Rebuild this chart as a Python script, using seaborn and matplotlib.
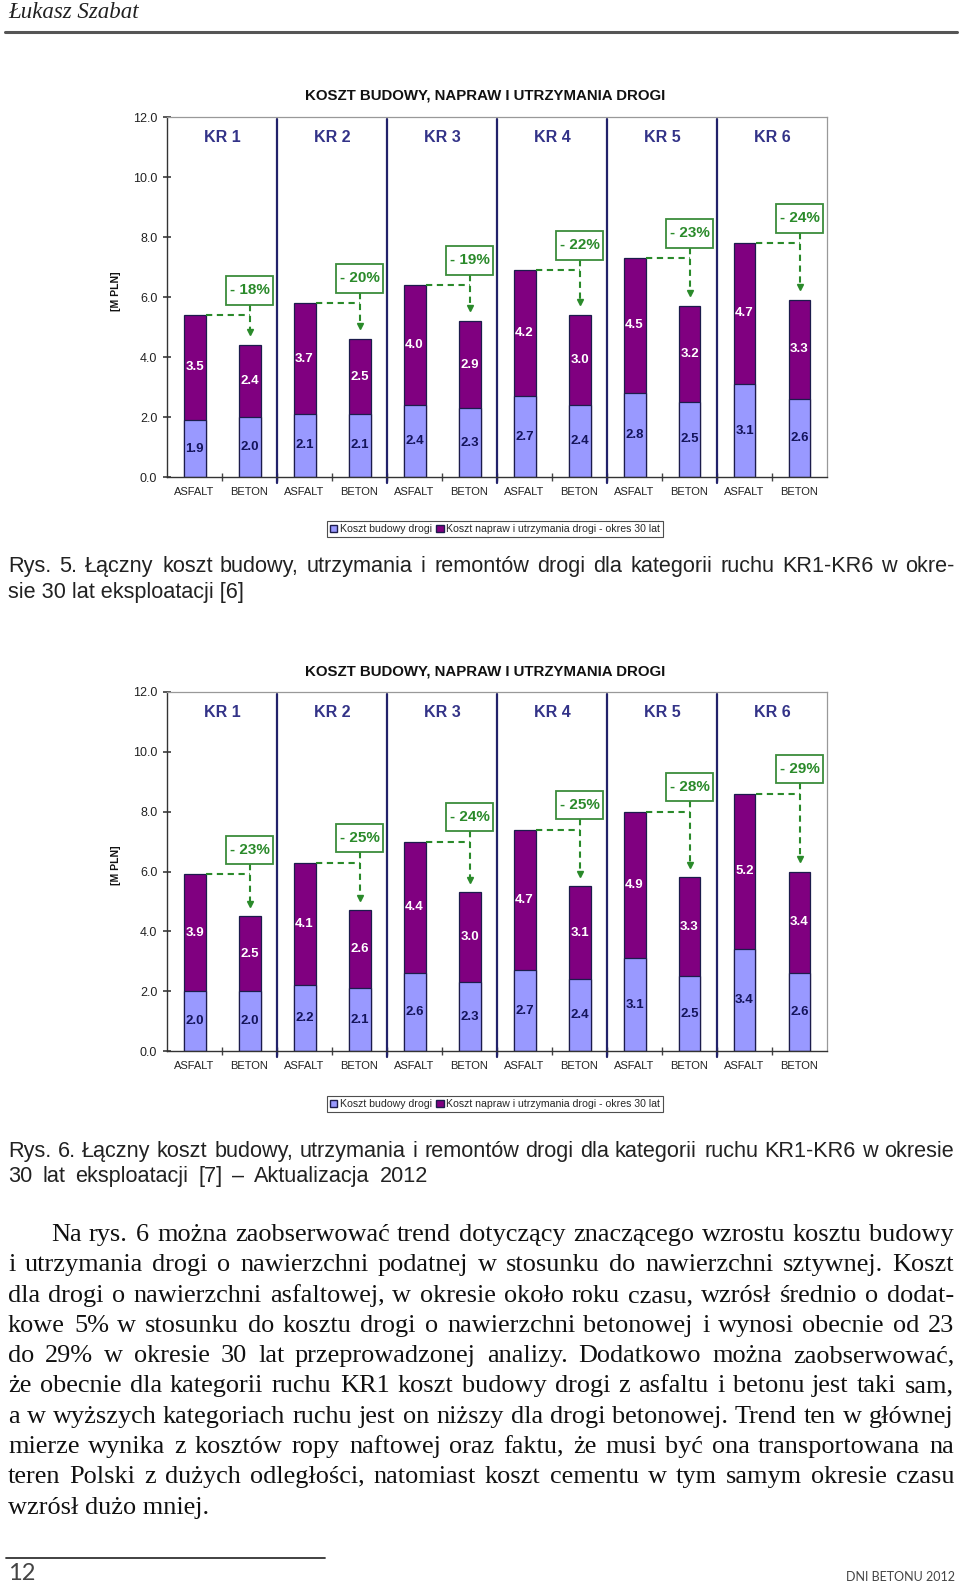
import pandas as pd
import matplotlib.pyplot as plt
import seaborn as sns
from matplotlib.patches import Rectangle, Patch

# wartosci (mln PLN)
kategorie = ['KR 1', 'KR 2', 'KR 3', 'KR 4', 'KR 5', 'KR 6']
nawierzchnie = ['ASFALT', 'BETON']

# Rys. 5
budowa_asfalt_5 = [1.9, 2.1, 2.4, 2.7, 2.8, 3.1]
utrzym_asfalt_5 = [3.5, 3.7, 4.0, 4.2, 4.5, 4.7]
budowa_beton_5 = [2.0, 2.1, 2.3, 2.4, 2.5, 2.6]
utrzym_beton_5 = [2.4, 2.5, 2.9, 3.0, 3.2, 3.3]
roznica_5 = [18, 20, 19, 22, 23, 24]

# Rys. 6
budowa_asfalt_6 = [2.0, 2.2, 2.6, 2.7, 3.1, 3.4]
utrzym_asfalt_6 = [3.9, 4.1, 4.4, 4.7, 4.9, 5.2]
budowa_beton_6 = [2.0, 2.1, 2.3, 2.4, 2.5, 2.6]
utrzym_beton_6 = [2.5, 2.6, 3.0, 3.1, 3.3, 3.4]
roznica_6 = [23, 25, 24, 25, 28, 29]

TITLE = 'KOSZT BUDOWY, NAPRAW I UTRZYMANIA DROGI'
LEG = ['Koszt budowy drogi', 'Koszt napraw i utrzymania drogi - okres 30 lat']

LIGHT = '#9999ff'
PURPLE = '#800080'
EDGE = '#1c1c4c'
NAVY = '#22226a'
GREEN = '#2a8a2a'

sns.set_theme(style='white')
plt.rcParams['font.family'] = ['Liberation Sans', 'DejaVu Sans']

W, H = 960, 1587
fig = plt.figure(figsize=(9.6, 15.87), dpi=100)


def fx(x):
    return x / W


def fy(y):
    return 1 - y / H


def draw_chart(top, bottom, ba, ua, bb, ub, roz):
    ax = fig.add_axes([fx(167), fy(bottom), (827 - 167) / W, (bottom - top) / H])
    rows = []
    for i, kr in enumerate(kategorie):
        rows.append((kr + ' A', 'ASFALT', ba[i], ua[i]))
        rows.append((kr + ' B', 'BETON', bb[i], ub[i]))
    df = pd.DataFrame(rows, columns=['cat', 'typ', 'budowa', 'utrzymanie'])
    df['suma'] = df['budowa'] + df['utrzymanie']

    # stacked bars: total (purple) first, then base (light) on top of it
    sns.barplot(data=df, x='cat', y='suma', color=PURPLE, width=0.4, saturation=1,
                edgecolor=EDGE, linewidth=0.9, errorbar=None, ax=ax)
    sns.barplot(data=df, x='cat', y='budowa', color=LIGHT, width=0.4, saturation=1,
                edgecolor=EDGE, linewidth=0.9, errorbar=None, ax=ax)

    for i, r in df.iterrows():
        ax.text(i, r['budowa'] / 2, f"{r['budowa']:.1f}", ha='center', va='center',
                fontsize=9.5, fontweight='bold', color='#14145a', zorder=6)
        ax.text(i, r['budowa'] + r['utrzymanie'] / 2, f"{r['utrzymanie']:.1f}",
                ha='center', va='center', fontsize=9.5, fontweight='bold', color='white', zorder=6)

    ax.set_xlim(-0.5, 11.5)
    ax.set_ylim(0, 12)
    ax.set_yticks(range(0, 13, 2))
    ax.set_yticklabels([f'{v:.1f}' for v in range(0, 13, 2)], fontsize=9, color='#222')
    ax.set_xticks(range(12))
    ax.set_xticklabels(list(df['typ']), fontsize=8, color='#222')
    ax.set_xticks([k + 0.5 for k in range(11)], minor=True)
    ax.tick_params(axis='x', which='major', length=0, pad=7)
    ax.tick_params(axis='x', which='minor', length=6, direction='inout', color='#444', bottom=True)
    ax.tick_params(axis='y', length=6, direction='inout', color='#444', left=True, pad=4)
    ax.set_xlabel('')
    ax.set_ylabel('')
    for s in ['left', 'bottom']:
        ax.spines[s].set_color('#333')
        ax.spines[s].set_linewidth(1.0)
    for s in ['top', 'right']:
        ax.spines[s].set_color('#999')
        ax.spines[s].set_linewidth(0.9)

    # group separators and KR headers
    for k in range(6):
        if k > 0:
            ax.plot([2 * k - 0.5] * 2, [-0.2, 11.93], color=NAVY, lw=1.6, clip_on=False, zorder=1)
        ax.text(2 * k + 0.5, 11.33, kategorie[k], ha='center', va='center',
                fontsize=11.5, fontweight='bold', color='#333388')

    # savings annotations
    for k in range(6):
        xa, xb = 2 * k, 2 * k + 1
        ta = ba[k] + ua[k]
        tb = bb[k] + ub[k]
        b0 = ta + 0.35
        ax.plot([xa + 0.2, xb], [ta, ta], color=GREEN, lw=1.5, ls=(0, (3, 2.2)), zorder=4)
        ax.plot([xb, xb], [b0, tb + 0.5], color=GREEN, lw=1.5, ls=(0, (3, 2.2)), zorder=4)
        ax.plot([xb], [tb + 0.43], marker='v', ms=5, color=GREEN, zorder=4)
        ax.add_patch(Rectangle((xb - 0.42, b0), 0.84, 0.95, facecolor='white',
                               edgecolor='#3c8c3c', lw=1.3, zorder=5))
        ax.text(xb, b0 + 0.475, f'- {roz[k]}%', ha='center', va='center', fontsize=11,
                fontweight='bold', color=GREEN, zorder=6)

    fig.text(fx(485), fy(top - 21), TITLE, ha='center', va='center', fontsize=10.8,
             fontweight='bold', color='#111')
    fig.text(fx(116), fy((top + bottom) / 2 - 6), '[M PLN]', rotation=90, ha='center',
             va='center', fontsize=7.5, fontweight='bold', color='#111')
    return ax


def draw_legend(yc):
    handles = [Patch(facecolor=LIGHT, edgecolor=EDGE), Patch(facecolor=PURPLE, edgecolor=EDGE)]
    leg = fig.legend(handles, LEG, loc='center', bbox_to_anchor=(fx(495), fy(yc)), ncol=2,
                     frameon=True, fancybox=False, fontsize=7.6, handlelength=0.7,
                     handleheight=0.7, handletextpad=0.25, columnspacing=0.4,
                     borderpad=0.25, borderaxespad=0)
    leg.get_frame().set_edgecolor('#222')
    leg.get_frame().set_linewidth(0.8)


draw_chart(117, 477, budowa_asfalt_5, utrzym_asfalt_5, budowa_beton_5, utrzym_beton_5, roznica_5)
draw_legend(529)
draw_chart(692, 1051, budowa_asfalt_6, utrzym_asfalt_6, budowa_beton_6, utrzym_beton_6, roznica_6)
draw_legend(1104)

renderer = fig.canvas.get_renderer()


def text_width(text, **kw):
    t = fig.text(0, 0, text, **kw)
    w = t.get_window_extent(renderer).width
    t.remove()
    return w


def fit_size(items, family):
    # largest font size at which every line fits its width with normal spaces
    sizes = []
    for text, avail in items:
        w = text_width(text, fontsize=10, family=family)
        sizes.append(10 * avail / w)
    return min(sizes) * 0.995


def put_line(text, y, x0, x1=None, **kw):
    y = round(y)
    if x1 is None:
        fig.text(fx(x0), fy(y), text, va='baseline', **kw)
        return
    words = text.split(' ')
    arts = [fig.text(0, fy(y), w, va='baseline', **kw) for w in words]
    widths = [a.get_window_extent(renderer).width for a in arts]
    gap = (x1 - x0 - sum(widths)) / (len(words) - 1)
    x = x0
    for a, w in zip(arts, widths):
        a.set_x(fx(round(x)))
        x += w + gap


RIGHT = 954

# header
fig.text(fx(8), fy(12), 'Łukasz Szabat', ha='left', va='center', fontsize=16.5,
         fontstyle='italic', family='Liberation Serif', color='#222')
fig.add_artist(plt.Line2D([fx(5), fx(957)], [fy(32), fy(32)], color='#555', lw=2.2))

# captions
cap1 = 'Rys. 5. Łączny koszt budowy, utrzymania i remontów drogi dla kategorii ruchu KR1-KR6 w okre-'
cap2 = 'Rys. 6. Łączny koszt budowy, utrzymania i remontów drogi dla kategorii ruchu KR1-KR6 w okresie'
cs = fit_size([(cap1, RIGHT - 8), (cap2, RIGHT - 8)], 'Liberation Sans')
cap = dict(fontsize=cs, color='#222', family='Liberation Sans')
put_line(cap1, 572, 8, RIGHT, **cap)
put_line('sie 30 lat eksploatacji [6]', 598, 8, **cap)
put_line(cap2, 1157, 8, RIGHT, **cap)
put_line('30 lat eksploatacji [7] – Aktualizacja 2012', 1182, 8, 428, **cap)

# paragraph
lines = [
    'Na rys. 6 można zaobserwować trend dotyczący znaczącego wzrostu kosztu budowy',
    'i utrzymania drogi o nawierzchni podatnej w stosunku do nawierzchni sztywnej. Koszt',
    'dla drogi o nawierzchni asfaltowej, w okresie około roku czasu, wzrósł średnio o dodat-',
    'kowe 5% w stosunku do kosztu drogi o nawierzchni betonowej i wynosi obecnie od 23',
    'do 29% w okresie 30 lat przeprowadzonej analizy. Dodatkowo można zaobserwować,',
    'że obecnie dla kategorii ruchu KR1 koszt budowy drogi z asfaltu i betonu jest taki sam,',
    'a w wyższych kategoriach ruchu jest on niższy dla drogi betonowej. Trend ten w głównej',
    'mierze wynika z kosztów ropy naftowej oraz faktu, że musi być ona transportowana na',
    'teren Polski z dużych odległości, natomiast koszt cementu w tym samym okresie czasu',
    'wzrósł dużo mniej.',
]
starts = [51] + [8] * (len(lines) - 1)
ps = fit_size([(t, RIGHT - x0) for t, x0 in zip(lines[:-1], starts[:-1])], 'Liberation Serif')
par = dict(fontsize=ps, color='#111', family='Liberation Serif')
for n, t in enumerate(lines):
    y = 1241 + 30.3 * n
    if n == len(lines) - 1:
        put_line(t, y, starts[n], **par)
    else:
        put_line(t, y, starts[n], RIGHT, **par)

# footer
fig.add_artist(plt.Line2D([fx(6), fx(325)], [fy(1558), fy(1558)], color='#333', lw=1.3))
fig.text(fx(8), fy(1574), '12', ha='left', va='center', fontsize=17, color='#444',
         family='Lato')
fig.text(fx(955), fy(1577), 'DNI BETONU 2012', ha='right', va='center', fontsize=9,
         color='#444', family='Lato')

fig.savefig('out.png', dpi=100)
